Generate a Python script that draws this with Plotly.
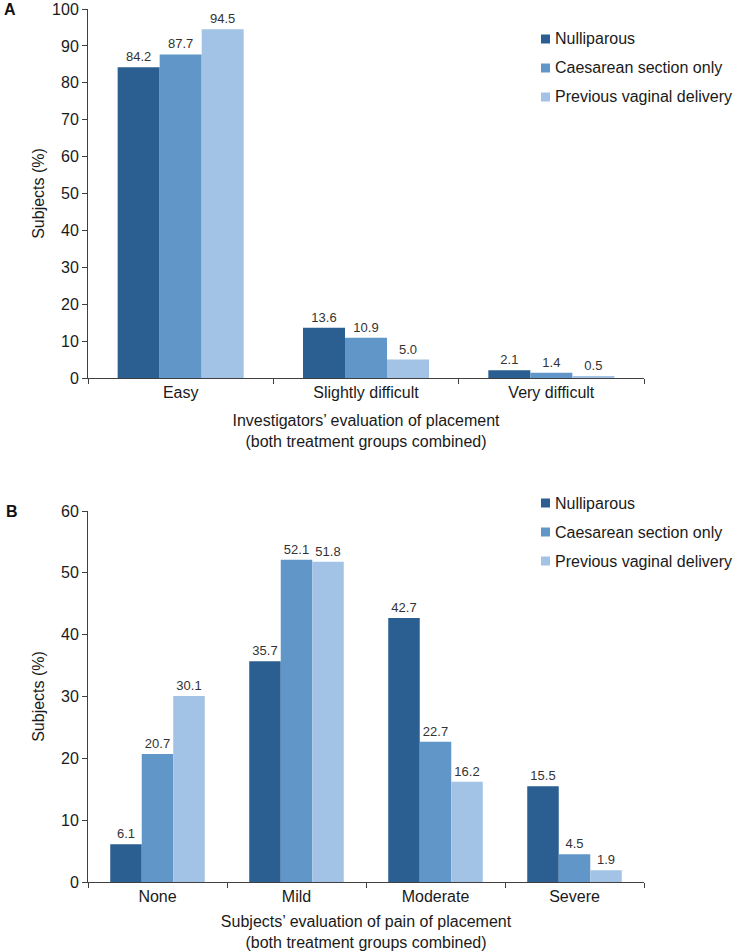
import plotly.graph_objects as go
from plotly.subplots import make_subplots

# Panel A data
placement_cats = ['Easy', 'Slightly difficult', 'Very difficult']
nulli_a = [84.2, 13.6, 2.1]
caes_a = [87.7, 10.9, 1.4]
prev_a = [94.5, 5.0, 0.5]

# Panel B data
pain_cats = ['None', 'Mild', 'Moderate', 'Severe']
nulli_b = [6.1, 35.7, 42.7, 15.5]
caes_b = [20.7, 52.1, 22.7, 4.5]
prev_b = [30.1, 51.8, 16.2, 1.9]

series_names = ['Nulliparous', 'Caesarean section only', 'Previous vaginal delivery']
colors = ['#2B5E91', '#6197C8', '#A2C3E5']

W, H = 738, 952
FONT = 'Liberation Sans, Arial, sans-serif'
AXIS_COL = '#404040'
TXT = '#1a1a1a'

fig = make_subplots(rows=2, cols=1)

for i, vals in enumerate([nulli_a, caes_a, prev_a]):
    fig.add_trace(go.Bar(
        x=placement_cats, y=vals, name=series_names[i],
        marker=dict(color=colors[i], line=dict(width=0)),
        texttemplate='%{y:.1f}', textposition='outside',
        textfont=dict(size=13, color='#333333'),
        cliponaxis=False, showlegend=False,
    ), row=1, col=1)

for i, vals in enumerate([nulli_b, caes_b, prev_b]):
    fig.add_trace(go.Bar(
        x=pain_cats, y=vals, name=series_names[i],
        marker=dict(color=colors[i], line=dict(width=0)),
        texttemplate='%{y:.1f}', textposition='outside',
        textfont=dict(size=13, color='#333333'),
        cliponaxis=False, showlegend=False,
    ), row=2, col=1)

x_dom = [88 / W, 644 / W]
axis_common = dict(showline=True, linecolor=AXIS_COL, linewidth=1, showgrid=False,
                   zeroline=False, ticks='outside', tickcolor=AXIS_COL, ticklen=5,
                   automargin=False, ticklabeloverflow='allow',
                   tickfont=dict(size=16, color=TXT))

fig.update_layout(
    width=W, height=H,
    margin=dict(l=0, r=0, t=0, b=0),
    plot_bgcolor='white', paper_bgcolor='white',
    font=dict(family=FONT, color=TXT),
    barmode='group', bargap=0.32, bargroupgap=0,
    showlegend=False,
    xaxis=dict(domain=x_dom, anchor='y', tickson='boundaries', **axis_common,
               title=dict(text='Investigators’ evaluation of placement<br>(both treatment groups combined)',
                          font=dict(size=16), standoff=14)),
    yaxis=dict(domain=[1 - 378 / H, 1 - 9 / H], anchor='x', range=[0, 100], dtick=10,
               **axis_common,
               title=dict(text='Subjects (%)', font=dict(size=16), standoff=3)),
    xaxis2=dict(domain=x_dom, anchor='y2', tickson='boundaries', **axis_common,
                title=dict(text='Subjects’ evaluation of pain of placement<br>(both treatment groups combined)',
                           font=dict(size=16), standoff=11)),
    yaxis2=dict(domain=[1 - 882 / H, 1 - 511 / H], anchor='x2', range=[0, 60], dtick=10,
                **axis_common,
                title=dict(text='Subjects (%)', font=dict(size=16), standoff=12)),
)

# hand-made legends (square swatch + label) for each panel
def add_legend(first_row_y):
    for i, name in enumerate(series_names):
        yc = first_row_y + i * 29
        fig.add_shape(type='rect', xref='paper', yref='paper',
                      x0=541 / W, x1=550 / W, y0=1 - (yc + 4.5) / H, y1=1 - (yc - 4.5) / H,
                      fillcolor=colors[i], line=dict(width=0))
        fig.add_annotation(text=name, x=553 / W, y=1 - yc / H, xref='paper', yref='paper',
                           xanchor='left', yanchor='middle', showarrow=False,
                           font=dict(size=16, color=TXT))

add_legend(39)
add_legend(503)

# panel letters
fig.add_annotation(text='<b>A</b>', x=2 / W, y=1 - 10 / H, xref='paper', yref='paper',
                   xanchor='left', yanchor='middle', showarrow=False, font=dict(size=16, color='#111111'))
fig.add_annotation(text='<b>B</b>', x=4 / W, y=1 - 511 / H, xref='paper', yref='paper',
                   xanchor='left', yanchor='middle', showarrow=False, font=dict(size=16, color='#111111'))

# the page body has a default 8px margin; drop it so the figure fills the window
fig.write_html('out.html', config={'displayModeBar': False},
               post_script="document.body.style.margin='0';")
